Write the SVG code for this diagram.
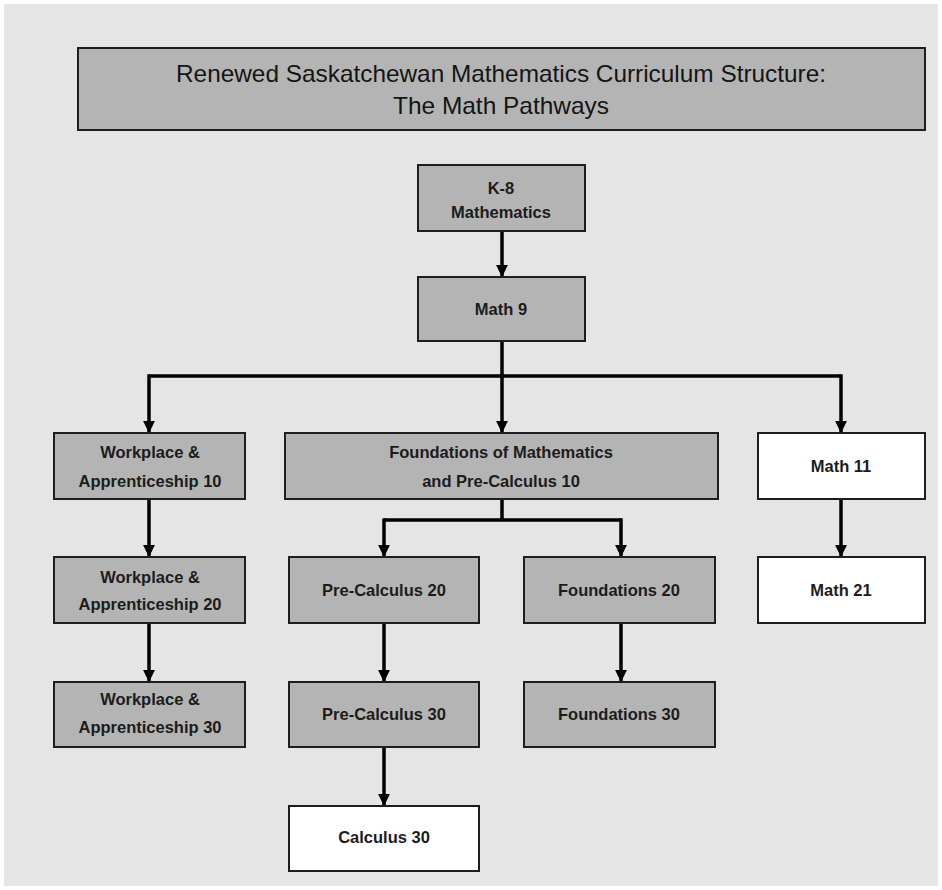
<svg xmlns="http://www.w3.org/2000/svg" width="942" height="890" viewBox="0 0 942 890">
<defs>
<style>
.bg{fill:#e5e5e5}
.box{fill:#b4b4b4;stroke:#1e1e1e;stroke-width:2}
.wbox{fill:#ffffff;stroke:#1e1e1e;stroke-width:2}
.title{font-family:"Liberation Sans",Arial,sans-serif;font-size:24px;fill:#151515;text-anchor:middle}
.lbl{font-family:"Liberation Sans",Arial,sans-serif;font-size:16.5px;font-weight:bold;fill:#1c1c1c;text-anchor:middle}
.con{fill:none;stroke:#000;stroke-width:3.5}
</style>
<marker id="ah" viewBox="0 0 10 10" refX="10" refY="5" markerWidth="3.4" markerHeight="3.4" orient="auto" markerUnits="strokeWidth">
<path d="M0,0 L10,5 L0,10 z" fill="#000"/>
</marker>
</defs>
<rect x="0" y="0" width="942" height="890" fill="#ffffff"/>
<rect class="bg" x="4" y="4" width="934" height="882"/>

<g id="title">
<rect class="box" x="78" y="48" width="847" height="82" fill="#b0b0b0"/>
<text class="title" x="501" y="82" textLength="650" lengthAdjust="spacingAndGlyphs">Renewed Saskatchewan Mathematics Curriculum Structure:</text>
<text class="title" x="501" y="114" textLength="216" lengthAdjust="spacingAndGlyphs">The Math Pathways</text>
</g>

<g id="connectors">
<path class="con" d="M502,231 V277" marker-end="url(#ah)"/>
<path class="con" d="M502,341 V433" marker-end="url(#ah)"/>
<path class="con" d="M149,376 H841"/>
<path class="con" d="M149,374.3 V433" marker-end="url(#ah)"/>
<path class="con" d="M841,374.3 V433" marker-end="url(#ah)"/>
<path class="con" d="M149,499 V557" marker-end="url(#ah)"/>
<path class="con" d="M149,623 V682" marker-end="url(#ah)"/>
<path class="con" d="M502,499 V520"/>
<path class="con" d="M384,520 H621"/>
<path class="con" d="M384,518.3 V557" marker-end="url(#ah)"/>
<path class="con" d="M621,518.3 V557" marker-end="url(#ah)"/>
<path class="con" d="M384,623 V682" marker-end="url(#ah)"/>
<path class="con" d="M621,623 V682" marker-end="url(#ah)"/>
<path class="con" d="M384,747 V806" marker-end="url(#ah)"/>
<path class="con" d="M841,499 V557" marker-end="url(#ah)"/>
</g>

<g id="k8">
<rect class="box" x="418" y="165" width="167" height="66"/>
<text class="lbl" x="501" y="194">K-8</text>
<text class="lbl" x="501" y="218">Mathematics</text>
</g>
<g id="math9">
<rect class="box" x="418" y="277" width="167" height="64"/>
<text class="lbl" x="501" y="315">Math 9</text>
</g>
<g id="wa10">
<rect class="box" x="54" y="433" width="191" height="66"/>
<text class="lbl" x="150" y="458">Workplace &amp;</text>
<text class="lbl" x="150" y="487">Apprenticeship 10</text>
</g>
<g id="fpc10">
<rect class="box" x="285" y="433" width="433" height="66"/>
<text class="lbl" x="501" y="458">Foundations of Mathematics</text>
<text class="lbl" x="501" y="487">and Pre-Calculus 10</text>
</g>
<g id="math11">
<rect class="wbox" x="758" y="433" width="167" height="66"/>
<text class="lbl" x="841" y="472">Math 11</text>
</g>
<g id="wa20">
<rect class="box" x="54" y="557" width="191" height="66"/>
<text class="lbl" x="150" y="583">Workplace &amp;</text>
<text class="lbl" x="150" y="610">Apprenticeship 20</text>
</g>
<g id="pc20">
<rect class="box" x="289" y="557" width="190" height="66"/>
<text class="lbl" x="384" y="596">Pre-Calculus 20</text>
</g>
<g id="f20">
<rect class="box" x="524" y="557" width="191" height="66"/>
<text class="lbl" x="619" y="596">Foundations 20</text>
</g>
<g id="math21">
<rect class="wbox" x="758" y="557" width="167" height="66"/>
<text class="lbl" x="841" y="596">Math 21</text>
</g>
<g id="wa30">
<rect class="box" x="54" y="682" width="191" height="65"/>
<text class="lbl" x="150" y="705">Workplace &amp;</text>
<text class="lbl" x="150" y="733">Apprenticeship 30</text>
</g>
<g id="pc30">
<rect class="box" x="289" y="682" width="190" height="65"/>
<text class="lbl" x="384" y="720">Pre-Calculus 30</text>
</g>
<g id="f30">
<rect class="box" x="524" y="682" width="191" height="65"/>
<text class="lbl" x="619" y="720">Foundations 30</text>
</g>
<g id="calc30">
<rect class="wbox" x="289" y="806" width="190" height="65"/>
<text class="lbl" x="384" y="843">Calculus 30</text>
</g>
</svg>
